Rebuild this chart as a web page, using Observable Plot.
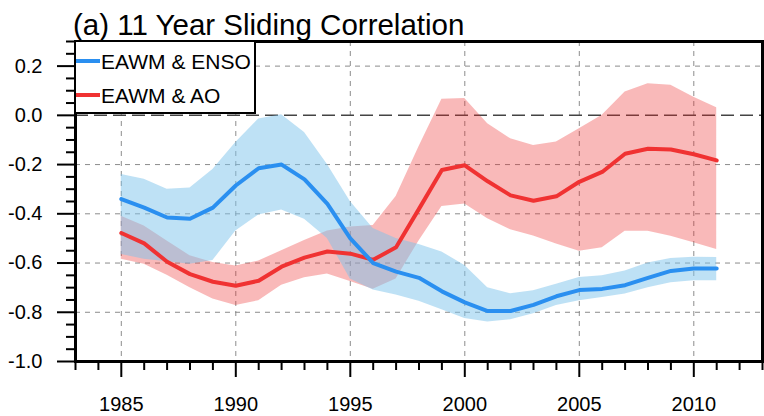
<!DOCTYPE html>
<html>
<head>
<meta charset="utf-8">
<script src="https://cdn.jsdelivr.net/npm/d3@7"></script>
<script src="https://cdn.jsdelivr.net/npm/@observablehq/plot@0.6"></script>
<style>
  body { margin: 0; background: #fff; }
  #wrap { position: relative; width: 764px; height: 416px; font-family: "Liberation Sans", Arial, Helvetica, sans-serif; color: #000; }
  #title { position: absolute; left: 73px; top: 10px; font-size: 29.5px; line-height: 29.5px; white-space: nowrap; }
  #legend { position: absolute; left: 74px; top: 40px; width: 182px; height: 74px; box-sizing: border-box; border: 2px solid #000; background: #fff; }
  .row { position: absolute; left: 0; height: 21px; display: flex; align-items: center; font-size: 21px; line-height: 21px; white-space: nowrap; }
  .sw { width: 24px; height: 4px; margin-right: 1px; }
</style>
</head>
<body>
<div id="wrap">
  <div id="chart"></div>
  <div id="title">(a) 11 Year Sliding Correlation</div>
  <div id="legend"></div>
</div>
<script>
// Centre year of each 11-year window
const years = [1985, 1986, 1987, 1988, 1989, 1990, 1991, 1992, 1993, 1994,
               1995, 1996, 1997, 1998, 1999, 2000, 2001, 2002, 2003, 2004,
               2005, 2006, 2007, 2008, 2009, 2010, 2011];

// EAWM & ENSO: sliding correlation and its spread
const ensoCorr  = [-0.340, -0.375, -0.415, -0.420, -0.375, -0.285, -0.215, -0.200, -0.260, -0.360,
                   -0.500, -0.600, -0.635, -0.660, -0.715, -0.760, -0.795, -0.795, -0.770, -0.735,
                   -0.710, -0.705, -0.690, -0.660, -0.632, -0.622, -0.622];
const ensoUpper = [-0.240, -0.260, -0.300, -0.295, -0.220, -0.110, -0.015,  0.002, -0.070, -0.200,
                   -0.350, -0.460, -0.500, -0.525, -0.555, -0.610, -0.700, -0.725, -0.713, -0.686,
                   -0.659, -0.652, -0.632, -0.600, -0.582, -0.576, -0.578];
const ensoLower = [-0.565, -0.585, -0.595, -0.605, -0.590, -0.470, -0.405, -0.385, -0.422, -0.500,
                   -0.665, -0.710, -0.730, -0.755, -0.790, -0.825, -0.840, -0.830, -0.806, -0.773,
                   -0.753, -0.740, -0.726, -0.700, -0.680, -0.672, -0.672];

// EAWM & AO: sliding correlation and its spread
const aoCorr  = [-0.478, -0.520, -0.595, -0.645, -0.676, -0.692, -0.672, -0.615, -0.578, -0.553,
                 -0.562, -0.587, -0.536, -0.380, -0.222, -0.203, -0.268, -0.325, -0.347, -0.329,
                 -0.270, -0.230, -0.156, -0.136, -0.139, -0.158, -0.183];
const aoUpper = [-0.410, -0.450, -0.510, -0.570, -0.598, -0.612, -0.592, -0.550, -0.508, -0.470,
                 -0.454, -0.447, -0.330, -0.128,  0.065,  0.068, -0.034, -0.095, -0.122, -0.108,
                 -0.054,  0.000,  0.095,  0.128,  0.122,  0.074,  0.031];
const aoLower = [-0.585, -0.605, -0.650, -0.700, -0.746, -0.773, -0.753, -0.690, -0.660, -0.645,
                 -0.675, -0.706, -0.665, -0.510, -0.370, -0.360, -0.420, -0.465, -0.490, -0.523,
                 -0.552, -0.538, -0.471, -0.471, -0.491, -0.518, -0.545];

// Axis ticks
const xMajor = [1985, 1990, 1995, 2000, 2005, 2010];
const xMinor = [1983, 1984, 1986, 1987, 1988, 1989, 1991, 1992, 1993, 1994, 1996, 1997, 1998, 1999,
                2001, 2002, 2003, 2004, 2006, 2007, 2008, 2009, 2011, 2012, 2013];
const yMajor = [-1.0, -0.8, -0.6, -0.4, -0.2, 0.0, 0.2];
const yMinor = [-0.95, -0.9, -0.85, -0.75, -0.7, -0.65, -0.55, -0.5, -0.45, -0.35, -0.3, -0.25,
                -0.15, -0.1, -0.05, 0.05, 0.1, 0.15, 0.25, 0.3];
const yGrid = [-0.8, -0.6, -0.4, -0.2, 0.2];

const seriesNames = ["EAWM & ENSO", "EAWM & AO"];
const seriesColors = ["#2a8ff0", "#f03232"];

const rows = years.map((year, i) => ({
  year,
  enso: ensoCorr[i], ensoHi: ensoUpper[i], ensoLo: ensoLower[i],
  ao: aoCorr[i], aoHi: aoUpper[i], aoLo: aoLower[i]
}));

const fmt = d => d.toFixed(1);

const chart = Plot.plot({
  width: 764,
  height: 416,
  marginLeft: 75,
  marginRight: 2,
  marginTop: 41,
  marginBottom: 55,
  style: { fontFamily: "'Liberation Sans', Arial, Helvetica, sans-serif", fontSize: "20px", color: "#000", background: "#fff", overflow: "visible" },
  x: { domain: [1983, 2013], label: null },
  y: { domain: [-1, 0.3], label: null },
  marks: [
    Plot.gridX(xMajor, { stroke: "#8c8c8c", strokeOpacity: 1, strokeDasharray: "5,5" }),
    Plot.gridY(yGrid, { stroke: "#8c8c8c", strokeOpacity: 1, strokeDasharray: "5,5" }),
    Plot.ruleY([0], { stroke: "#444", strokeWidth: 1.5, strokeDasharray: "13,6" }),
    // AO spread first, ENSO spread laid semi-transparently over it
    Plot.areaY(rows, { x: "year", y1: "aoLo", y2: "aoHi", fill: "#ee2c2c", fillOpacity: 0.33 }),
    Plot.areaY(rows, { x: "year", y1: "ensoLo", y2: "ensoHi", fill: "#7dc3eb", fillOpacity: 0.5 }),
    Plot.line(rows, { x: "year", y: "ao", stroke: seriesColors[1], strokeWidth: 4 }),
    Plot.line(rows, { x: "year", y: "enso", stroke: seriesColors[0], strokeWidth: 4 }),
    Plot.axisX(xMajor, { tickSize: 16, tickPadding: 19, tickFormat: d => String(d), strokeWidth: 2, label: null }),
    Plot.axisX(xMinor, { tickSize: 9, tickFormat: () => "", strokeWidth: 2, label: null }),
    Plot.axisY(yMajor, { tickSize: 18, tickPadding: 15, tickFormat: fmt, strokeWidth: 2, label: null }),
    Plot.axisY(yMinor, { tickSize: 9, tickFormat: () => "", strokeWidth: 2, label: null }),
    Plot.frame({ stroke: "#000", strokeWidth: 3 })
  ]
});
document.getElementById("chart").appendChild(chart);

// Legend box in the upper-left corner of the frame
const legend = document.getElementById("legend");
seriesNames.forEach((name, i) => {
  const row = document.createElement("div");
  row.className = "row";
  row.style.top = (i === 0 ? 8.5 : 42.5) + "px";
  const sw = document.createElement("div");
  sw.className = "sw";
  sw.style.background = seriesColors[i];
  const label = document.createElement("span");
  label.textContent = name;
  row.appendChild(sw);
  row.appendChild(label);
  legend.appendChild(row);
});
</script>
</body>
</html>
